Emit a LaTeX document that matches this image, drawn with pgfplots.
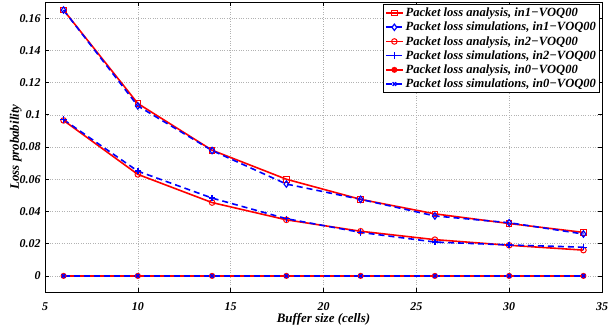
\documentclass[border=0pt]{standalone}
\usepackage{pgfplots}
\pgfplotsset{compat=1.18}
\usepackage{fontspec}
\setmainfont{Liberation Serif}
\begin{document}
\begin{tikzpicture}
\begin{axis}[
  at={(0,0)}, anchor=south west,
  scale only axis, width=557bp, height=290bp,
  xmin=5, xmax=35, ymin=-0.01, ymax=0.17,
  xtick={5,10,15,20,25,30,35},
  xticklabels={5,10,15,20,25,30,35},
  ytick={0,0.02,0.04,0.06,0.08,0.1,0.12,0.14,0.16},
  yticklabels={0,0.02,0.04,0.06,0.08,0.1,0.12,0.14,0.16},
  tick align=inside, tick pos=both,
  major tick length=4bp,
  tick style={black, line width=0.6pt},
  axis line style={black, line width=1pt},
  grid=major,
  major grid style={gray!60, dotted, line width=0.5pt},
  ticklabel style={font=\fontsize{12}{13}\selectfont\bfseries\itshape},
  yticklabel style={xshift=-1bp},
  xticklabel style={yshift=-7bp},
  xlabel={Buffer size (cells)},
  ylabel={Loss probability},
  label style={font=\fontsize{13}{14}\selectfont\bfseries\itshape},
  xlabel style={yshift=4bp},
  ylabel style={yshift=-9bp},
  legend cell align=left,
  legend style={at={(rel axis cs:1,1)}, anchor=north east, xshift=-2bp, yshift=-2bp,
    draw=black, line width=1pt, fill=white,
    font=\fontsize{12.6}{15}\selectfont\bfseries\itshape,
    inner sep=1.5pt, row sep=0pt},
]
\addplot[color=red, line width=1.6pt, mark=square, mark size=2.8pt, mark options={solid, line width=1pt}]
  coordinates {(6,0.165) (10,0.107) (14,0.078) (18,0.060) (22,0.0475) (26,0.0385) (30,0.0325) (34,0.027)};
\addlegendentry{Packet loss analysis, in1−VOQ00}
\addplot[color=blue, line width=1.6pt, dash pattern=on 6bp off 4bp, mark=diamond, mark size=3.2pt, mark options={solid, line width=1.2pt}]
  coordinates {(6,0.165) (10,0.1055) (14,0.0778) (18,0.057) (22,0.0475) (26,0.0372) (30,0.0330) (34,0.026)};
\addlegendentry{Packet loss simulations, in1−VOQ00}
\addplot[color=red, line width=1.6pt, mark=o, mark size=2.8pt, mark options={solid, line width=1pt}]
  coordinates {(6,0.0965) (10,0.063) (14,0.0455) (18,0.0348) (22,0.0277) (26,0.0225) (30,0.019) (34,0.016)};
\addlegendentry{Packet loss analysis, in2−VOQ00}
\addplot[color=blue, line width=1.6pt, dash pattern=on 6bp off 4bp, mark=+, mark size=3.2pt, mark options={solid, line width=1.4pt}]
  coordinates {(6,0.097) (10,0.065) (14,0.0483) (18,0.0355) (22,0.027) (26,0.021) (30,0.0192) (34,0.0178)};
\addlegendentry{Packet loss simulations, in2−VOQ00}
\addplot[color=red, line width=1.6pt, mark=*, mark size=2.2pt, mark options={solid}]
  coordinates {(6,0) (10,0) (14,0) (18,0) (22,0) (26,0) (30,0) (34,0)};
\addlegendentry{Packet loss analysis, in0−VOQ00}
\addplot[color=blue, line width=1.6pt, dash pattern=on 6bp off 4bp, mark=x, mark size=2.5pt, mark options={solid, line width=1.4pt}]
  coordinates {(6,0) (10,0) (14,0) (18,0) (22,0) (26,0) (30,0) (34,0)};
\addlegendentry{Packet loss simulations, in0−VOQ00}
\end{axis}
\pgfresetboundingbox
\path (-45bp,-33bp) rectangle (563bp,292bp);
\end{tikzpicture}
\end{document}
